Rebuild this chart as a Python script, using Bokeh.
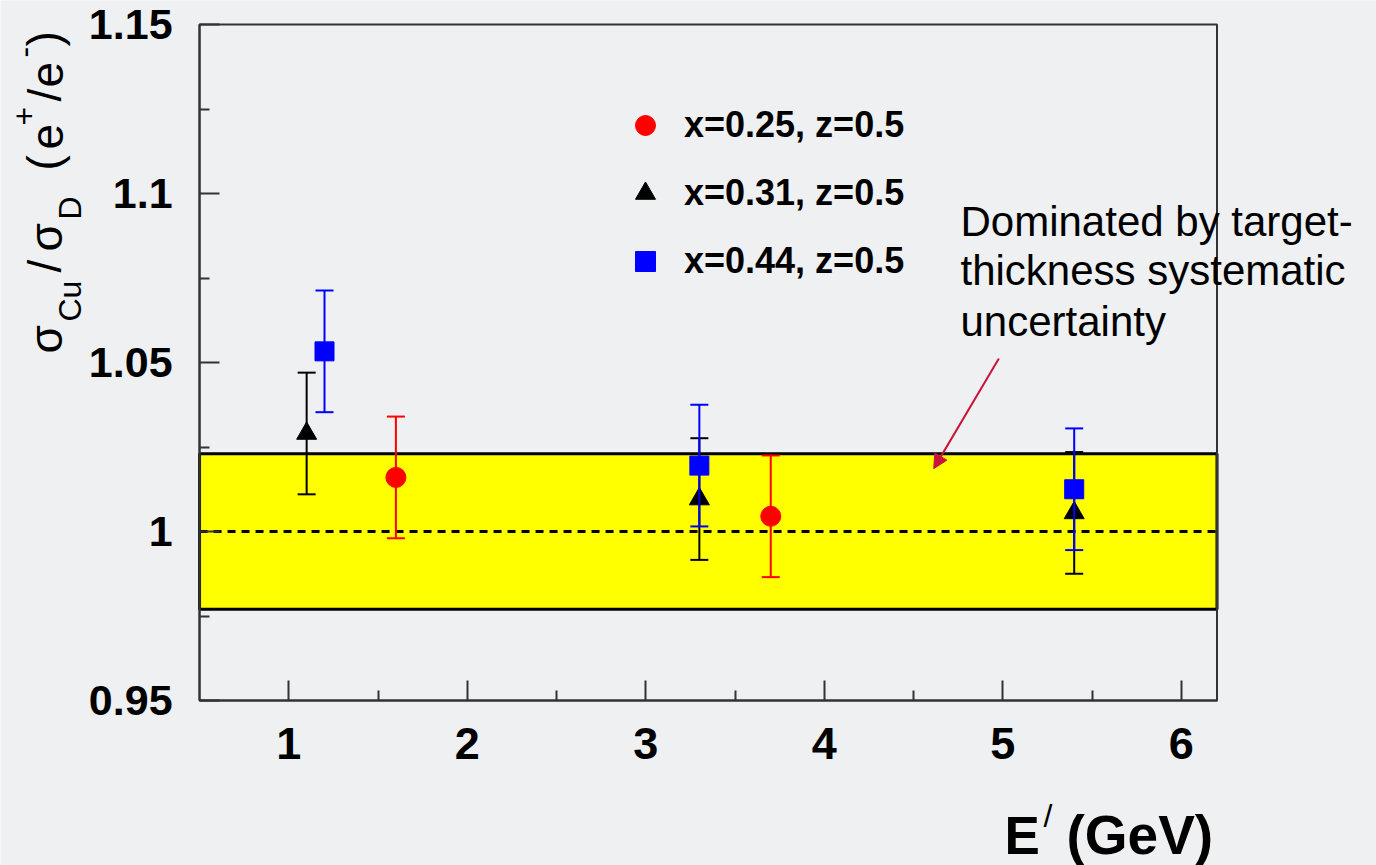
import math
from bokeh.plotting import figure
from bokeh.models import (BoxAnnotation, Label, Arrow, NormalHead, FixedTicker, LinearAxis,
                          Legend, LegendItem, ColumnDataSource)
from bokeh.embed import file_html
from bokeh.resources import INLINE

# ---------------- data ----------------
E_x025 = [1.6, 3.7]
R_x025 = [1.016, 1.0045]
dR_x025 = [0.018, 0.018]

E_x031 = [1.1, 3.3, 5.4]
R_x031 = [1.029, 1.0096, 1.0055]
dR_x031 = [0.018, 0.018, 0.018]

E_x044 = [1.2, 3.3, 5.4]
R_x044 = [1.0533, 1.0195, 1.0125]
dR_x044 = [0.018, 0.018, 0.018]

series_labels = ["x=0.25, z=0.5", "x=0.31, z=0.5", "x=0.44, z=0.5"]

band_low = 0.977
band_high = 1.023
ref_value = 1.0

x_limits = [0.5, 6.2]
y_limits = [0.95, 1.15]
x_ticks = [1, 2, 3, 4, 5, 6]
x_tick_labels = ["1", "2", "3", "4", "5", "6"]
x_minor = [1.5, 2.5, 3.5, 4.5, 5.5]
y_ticks = [0.95, 1.0, 1.05, 1.1, 1.15]
y_tick_labels = ["0.95", "1", "1.05", "1.1", "1.15"]
y_minor = [0.975, 1.025, 1.075, 1.125]

annotation_lines = ["Dominated by target-", "thickness systematic", "uncertainty"]

# ---------------- layout geometry (pixels) ----------------
W, H = 1376, 865
PX_X0, PX_PER_X = 288.3, 178.5      # pixel of x=1, pixels per GeV
PX_Y1, PX_PER_Y = 531.0, 3380.0     # pixel of y=1, pixels per unit ratio
x_start = 1 - PX_X0 / PX_PER_X
x_end = x_start + W / PX_PER_X
y_end = 1 + PX_Y1 / PX_PER_Y
y_start = y_end - H / PX_PER_Y

BG = "#eef0f2"
FONT = "Liberation Sans"

p = figure(width=W, height=H, x_range=(x_start, x_end), y_range=(y_start, y_end),
           output_backend="svg", toolbar_location=None,
           x_axis_location=None, y_axis_location=None, min_border=0)
p.background_fill_color = BG
p.border_fill_color = BG
p.outline_line_color = None
p.xgrid.visible = False
p.ygrid.visible = False

# axes fixed on the plot box edges
xaxis = LinearAxis(fixed_location=y_limits[0], bounds=tuple(x_limits),
                   ticker=FixedTicker(ticks=x_ticks, minor_ticks=x_minor),
                   major_label_overrides=dict(zip(x_ticks, x_tick_labels)))
yaxis = LinearAxis(fixed_location=x_limits[0], bounds=tuple(y_limits),
                   ticker=FixedTicker(ticks=y_ticks, minor_ticks=y_minor),
                   major_label_overrides=dict(zip(y_ticks, y_tick_labels)))
for ax in (xaxis, yaxis):
    ax.axis_line_color = "#333333"
    ax.axis_line_width = 2
    ax.major_tick_line_color = "#333333"
    ax.minor_tick_line_color = "#333333"
    ax.major_tick_line_width = 2
    ax.minor_tick_line_width = 2
    ax.major_tick_in = 20
    ax.major_tick_out = 0
    ax.minor_tick_in = 10
    ax.minor_tick_out = 0
    ax.major_label_text_font = FONT
    ax.major_label_text_font_style = "bold"
    ax.major_label_text_color = "black"
xaxis.major_label_text_font_size = "45px"
yaxis.major_label_text_font_size = "43px"
xaxis.major_label_standoff = 27
yaxis.major_label_standoff = 27
p.add_layout(xaxis, "below")
p.add_layout(yaxis, "left")

# band and reference line
p.add_layout(BoxAnnotation(left=x_limits[0], right=x_limits[1], bottom=band_low, top=band_high,
                           fill_color="#ffff00", fill_alpha=1.0,
                           line_color="black", line_alpha=1.0, line_width=3, level="underlay"))
p.line(x=x_limits, y=[ref_value, ref_value], line_color="black", line_width=3, line_dash="8 6")

# series
def add_series(E, R, dR, color, marker, size):
    src = ColumnDataSource(dict(x=E, y=R,
                                lo=[r - d for r, d in zip(R, dR)],
                                hi=[r + d for r, d in zip(R, dR)]))
    p.segment(x0="x", y0="lo", x1="x", y1="hi", source=src, line_color=color, line_width=2)
    p.scatter(x="x", y="lo", marker="dash", size=18, line_color=color, line_width=2, source=src)
    p.scatter(x="x", y="hi", marker="dash", size=18, line_color=color, line_width=2, source=src)
    return p.scatter(x="x", y="y", marker=marker, size=size, fill_color=color,
                     line_color=color, source=src)

r_red = add_series(E_x025, R_x025, dR_x025, "#ff0000", "circle", 20)
r_black = add_series(E_x031, R_x031, dR_x031, "black", "triangle", 20)
r_blue = add_series(E_x044, R_x044, dR_x044, "#0000ff", "square", 19)

# plot box outline
p.add_layout(BoxAnnotation(left=x_limits[0], right=x_limits[1], bottom=y_limits[0], top=y_limits[1],
                           fill_alpha=0, line_color="#333333", line_alpha=1.0, line_width=2))

legend = Legend(items=[LegendItem(label=series_labels[0], renderers=[r_red]),
                       LegendItem(label=series_labels[1], renderers=[r_black]),
                       LegendItem(label=series_labels[2], renderers=[r_blue])],
                location=(620, H - 286), orientation="vertical",
                glyph_width=50, glyph_height=50, spacing=18, padding=0, margin=0,
                label_standoff=14, label_text_font=FONT, label_text_font_style="bold",
                label_text_font_size="36px", label_text_color="black",
                background_fill_alpha=0, border_line_alpha=0)
p.add_layout(legend)

# annotation arrow
crimson = "#c8143c"
p.add_layout(Arrow(x_start=4.978, y_start=1.0512, x_end=4.613, y_end=1.0186,
                   line_color=crimson, line_width=2,
                   end=NormalHead(size=14, fill_color=crimson, line_color=crimson)))

# screen-placed texts: (ix, iy) = baseline start in image pixels (origin top-left)
SHIFT = 0.38  # empirical baseline correction, in em

def add_text(text, ix, iy, size, style="normal", vertical=False, color="black"):
    if vertical:
        ix = ix - SHIFT * size
    else:
        iy = iy - SHIFT * size
    p.add_layout(Label(x=ix, y=H - iy, x_units="screen", y_units="screen",
                       text=text, text_font=FONT, text_font_size=f"{size}px",
                       text_font_style=style, text_color=color,
                       angle=math.pi / 2 if vertical else 0.0,
                       text_align="left", text_baseline="alphabetic"))

for i, line in enumerate(annotation_lines):
    add_text(line, 960, [237, 286, 337][i], 42)

# y axis label: sigma_Cu / sigma_D (e+/e-)
ylab = [("σ", 63, 353, 46), ("Cu", 82, 321, 32), ("/", 62, 272, 46), ("σ", 63, 251, 46),
        ("D", 82, 219, 32), ("(", 61, 170, 46), ("e", 64, 149, 46), ("+", 36, 125, 32),
        ("/", 62, 101, 46), ("e", 64, 87, 46), ("-", 36, 57, 32), (")", 61, 46, 46)]
for t, ix, iy, s in ylab:
    add_text(t, ix, iy, s, vertical=True)

# x axis label: E' (GeV)
add_text("E", 1004, 855, 53, style="bold")
add_text("/", 1043, 828, 32)
add_text("(GeV)", 1066, 855, 55, style="bold")

open("out.html", "w").write(file_html(p, INLINE))
